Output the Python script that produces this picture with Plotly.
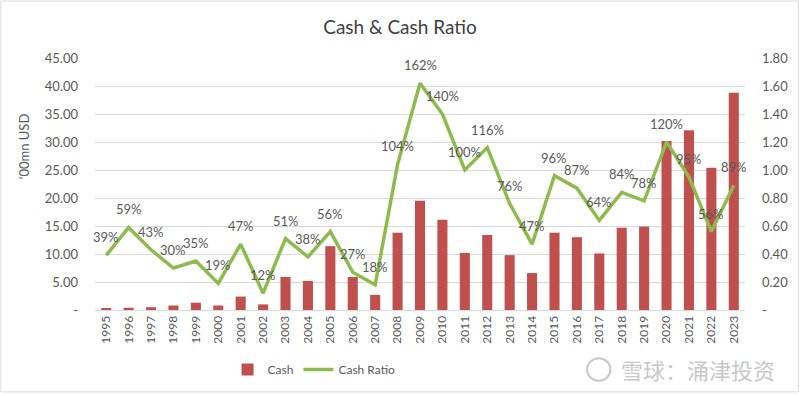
import plotly.graph_objects as go

years = [str(y) for y in range(1995, 2024)]
cash = [0.3, 0.4, 0.5, 0.8, 1.3, 0.8, 2.4, 1.0, 5.9, 5.2, 11.4, 5.9, 2.7, 13.8,
        19.5, 16.1, 10.2, 13.4, 9.8, 6.6, 13.8, 13.0, 10.1, 14.7, 14.9, 30.2,
        32.1, 25.4, 38.8]
ratio = [0.39, 0.59, 0.43, 0.30, 0.35, 0.19, 0.47, 0.12, 0.51, 0.38, 0.56, 0.27,
         0.18, 1.04, 1.62, 1.40, 1.00, 1.16, 0.76, 0.47, 0.96, 0.87, 0.64, 0.84,
         0.78, 1.20, 0.95, 0.56, 0.89]
left_ticks = [0, 5, 10, 15, 20, 25, 30, 35, 40, 45]
left_text = ["-"] + [f"{v:.2f}" for v in left_ticks[1:]]
right_ticks = [0, 0.2, 0.4, 0.6, 0.8, 1.0, 1.2, 1.4, 1.6, 1.8]
right_text = ["-"] + [f"{v:.2f}" for v in right_ticks[1:]]

FONT = "Lato"
fig = go.Figure()
fig.add_trace(go.Bar(x=years, y=cash, name="Cash", marker_color="#C0504D",
                     marker_line_width=0))
fig.add_trace(go.Scatter(x=years, y=ratio, name="Cash Ratio", mode="lines",
                         line=dict(color="#8FBA4E", width=3.5), yaxis="y2"))

for i, r in enumerate(ratio):
    fig.add_annotation(x=i, y=r, xref="x", yref="y2", text=f"{round(r*100)}%",
                       showarrow=False, yshift=18,
                       font=dict(family=FONT, size=13, color="#595959"))

fig.add_annotation(x=-0.109, y=0.65, xref="paper", yref="paper", textangle=-90,
                   xanchor="center", yanchor="middle",
                   text="‘00mn USD", showarrow=False,
                   font=dict(family=FONT, size=13, color="#595959"))

fig.add_annotation(x=1.049, y=-0.236, xref="paper", yref="paper", xanchor="right",
                   yanchor="middle", text="雪球：涌津投资", showarrow=False,
                   font=dict(family="Noto Sans CJK SC", size=22, color="#C8C8C8"))

fig.update_layout(
    width=800, height=396,
    margin=dict(l=95, r=55, t=58, b=84),
    paper_bgcolor="white", plot_bgcolor="white",
    title=dict(text="Cash & Cash Ratio", x=0.5, xanchor="center", y=0.93, yanchor="middle",
               font=dict(family=FONT, size=19, color="#404040")),
    bargap=0.55,
    xaxis=dict(type="category", range=[-0.5, len(years) - 0.5], tickangle=-90,
               showgrid=False, showline=True, linecolor="#D9D9D9", linewidth=1,
               ticks="", tickfont=dict(family=FONT, size=12, color="#595959")),
    yaxis=dict(range=[0, 45], tickvals=left_ticks, ticktext=left_text,
               showgrid=True, gridcolor="#D9D9D9", zeroline=False, automargin=False,
               ticklabelstandoff=16,
               tickfont=dict(family=FONT, size=13, color="#595959")),
    yaxis2=dict(range=[0, 1.8], tickvals=right_ticks, ticktext=right_text,
                overlaying="y", side="right", showgrid=False, zeroline=False,
                automargin=False, ticklabelstandoff=16,
                tickfont=dict(family=FONT, size=13, color="#595959")),
    legend=dict(orientation="h", x=0.337, xanchor="center", y=-0.236, yanchor="middle",
                itemwidth=30, tracegroupgap=0,
                font=dict(family=FONT, size=12, color="#595959")),
    shapes=[
        dict(type="rect", xref="paper", yref="paper", x0=-0.145, x1=1.082,
             y0=-0.325, y1=1.226, line=dict(color="#D9D9D9", width=1)),
        dict(type="circle", xref="paper", yref="paper", x0=0.757, x1=0.793,
             y0=-0.281, y1=-0.191, line=dict(color="#C8C8C8", width=2)),
    ],
)

fig.write_html("out.html", config={"displayModeBar": False},
               post_script="document.body.style.margin='0';document.body.style.overflow='hidden';")
